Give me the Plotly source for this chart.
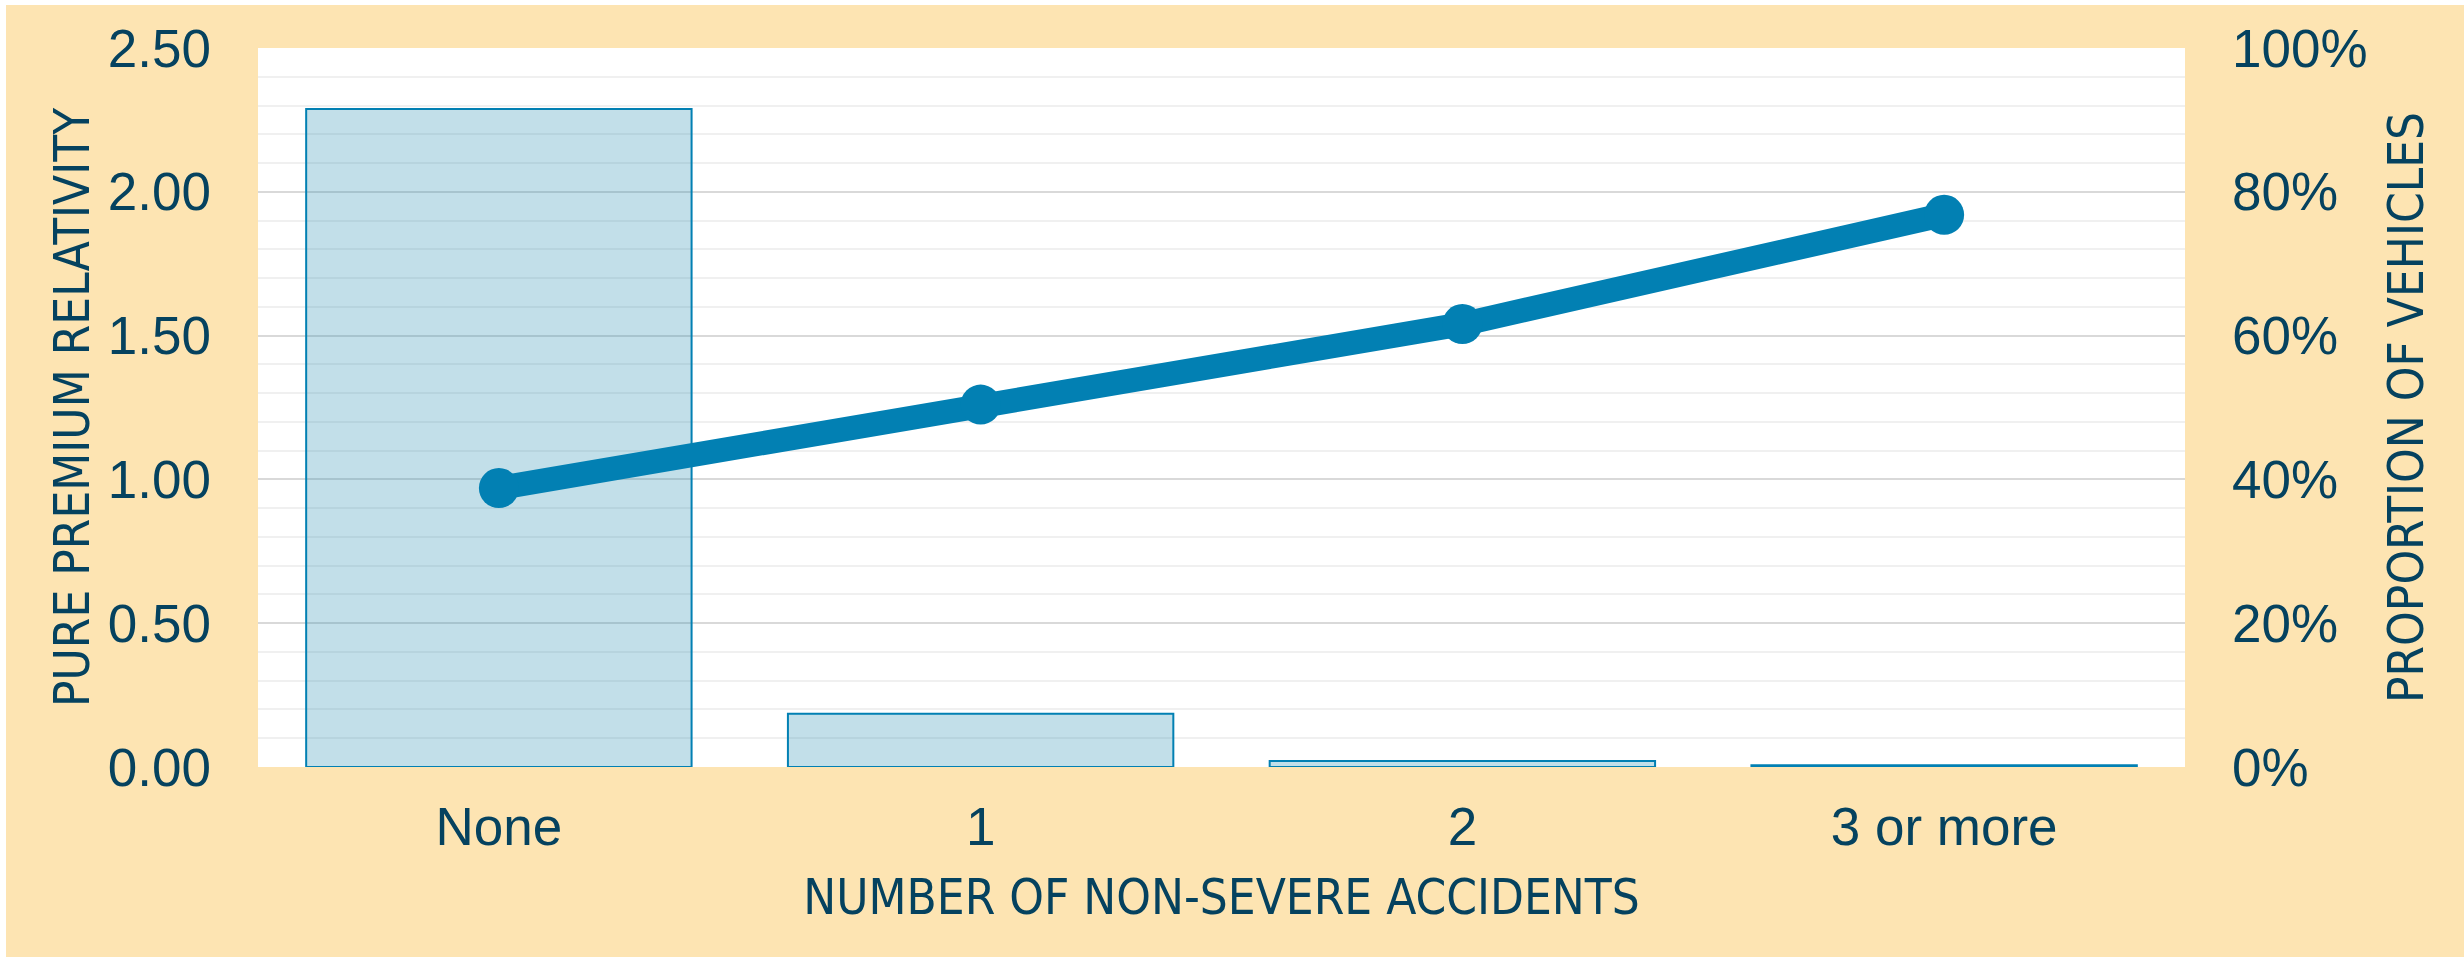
import plotly.graph_objects as go

# Data
categories = ["None", "1", "2", "3 or more"]
vehicle_share = [0.915, 0.074, 0.0085, 0.0025]      # proportion of vehicles (right axis)
relativity = [0.97, 1.26, 1.54, 1.92]               # pure premium relativity (left axis)

W, H = 2464, 957
ML, MR, MT, MB = 258, 279, 48, 190
PW, PH = W - ML - MR, H - MT - MB

NAVY = "#05425f"
BLUE = "#0280b3"
BEIGE = "#fde4b2"
TICK_FONT = dict(family="Liberation Sans, Arial, sans-serif", size=53, color=NAVY)
TITLE_FONT = dict(family="DejaVu Sans Condensed, Liberation Sans Narrow, Arial Narrow, sans-serif",
                  size=49, color=NAVY)

fig = go.Figure()

fig.add_trace(go.Bar(
    x=categories, y=vehicle_share, yaxis="y",
    marker=dict(color="rgba(52,148,182,0.30)", line=dict(color=BLUE, width=2)),
    showlegend=False, hoverinfo="skip",
))

fig.add_trace(go.Scatter(
    x=categories, y=relativity, yaxis="y2", mode="lines+markers",
    line=dict(color=BLUE, width=24),
    marker=dict(color=BLUE, size=40),
    showlegend=False, hoverinfo="skip",
))


def px_x(p):
    return (p - ML) / PW


def px_y(p):
    return (H - MB - p) / PH


# thin white frame along the top and left edges
fig.add_shape(type="rect", xref="paper", yref="paper", layer="above",
              x0=px_x(0), x1=px_x(W), y0=px_y(5), y1=px_y(0),
              fillcolor="white", line=dict(width=0))
fig.add_shape(type="rect", xref="paper", yref="paper", layer="above",
              x0=px_x(0), x1=px_x(6), y0=px_y(H), y1=px_y(0),
              fillcolor="white", line=dict(width=0))

fig.update_layout(
    width=W, height=H,
    margin=dict(l=ML, r=MR, t=MT, b=MB, pad=0),
    paper_bgcolor=BEIGE, plot_bgcolor="white",
    bargap=0.2,
    xaxis=dict(
        type="category", showgrid=False, zeroline=False, showline=False,
        ticks="", tickfont=TICK_FONT, ticklabelstandoff=24,
        title=dict(text="NUMBER OF NON-SEVERE ACCIDENTS", font=TITLE_FONT, standoff=24),
    ),
    yaxis=dict(
        side="right", range=[0, 1], dtick=0.2, tickformat=".0%",
        showgrid=True, gridcolor="#d9d9d9", gridwidth=2,
        minor=dict(dtick=0.04, showgrid=True, gridcolor="#f0f0f0", gridwidth=2),
        zeroline=False, showline=False, ticks="",
        tickfont=TICK_FONT, ticklabelstandoff=46,
        title=dict(text="PROPORTION OF VEHICLES", font=TITLE_FONT, standoff=22),
    ),
    yaxis2=dict(
        overlaying="y", side="left", range=[0, 2.5], dtick=0.5, tickformat=".2f",
        showgrid=False, zeroline=False, showline=False, ticks="",
        tickfont=TICK_FONT, ticklabelstandoff=46,
        title=dict(text="PURE PREMIUM RELATIVITY", font=TITLE_FONT, standoff=2),
    ),
)

fig.write_html("out.html")
